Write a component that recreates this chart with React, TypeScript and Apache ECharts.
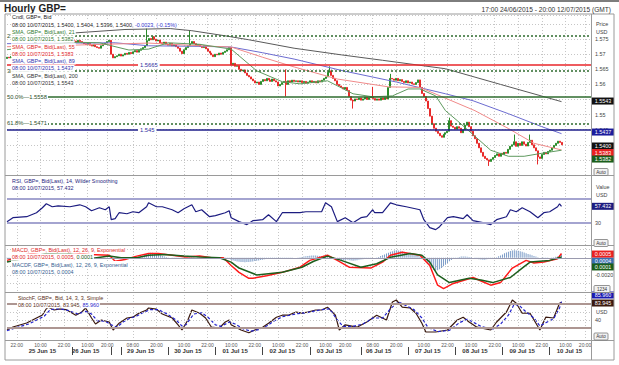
import React, { useEffect, useRef } from "react";
import * as echarts from "echarts";

// ---------------- categories: hourly bars, weekend gaps removed ----------------
const sessions: [string, number, number][] = [
  ["24 Jun 15", 17, 23], ["25 Jun 15", 0, 23], ["26 Jun 15", 0, 21], ["28 Jun 15", 21, 23],
  ["29 Jun 15", 0, 23], ["30 Jun 15", 0, 23], ["01 Jul 15", 0, 23], ["02 Jul 15", 0, 23],
  ["03 Jul 15", 0, 21], ["05 Jul 15", 20, 23], ["06 Jul 15", 0, 23], ["07 Jul 15", 0, 23],
  ["08 Jul 15", 0, 23], ["09 Jul 15", 0, 23], ["10 Jul 15", 0, 23],
];

const timeTickLabels = [
  "24 Jun 15 22:00", "25 Jun 15 10:00", "25 Jun 15 22:00", "26 Jun 15 10:00", "26 Jun 15 20:00",
  "29 Jun 15 08:00", "29 Jun 15 20:00", "30 Jun 15 10:00", "30 Jun 15 22:00", "01 Jul 15 10:00",
  "01 Jul 15 22:00", "02 Jul 15 10:00", "02 Jul 15 22:00", "03 Jul 15 10:00", "03 Jul 15 20:00",
  "06 Jul 15 08:00", "06 Jul 15 20:00", "07 Jul 15 10:00", "07 Jul 15 22:00", "08 Jul 15 10:00",
  "08 Jul 15 22:00", "09 Jul 15 10:00", "09 Jul 15 22:00", "10 Jul 15 10:00", "10 Jul 15 20:00",
];
const dateLabelSlots = [
  "25 Jun 15 11:00", "26 Jun 15 09:00", "29 Jun 15 12:00", "30 Jun 15 12:00", "01 Jul 15 12:00",
  "02 Jul 15 12:00", "03 Jul 15 12:00", "06 Jul 15 11:00", "07 Jul 15 12:00", "08 Jul 15 12:00",
  "09 Jul 15 12:00", "10 Jul 15 12:00",
];
const daySeparators = [
  "26 Jun 15 02:00", "28 Jun 15 21:00", "29 Jun 15 02:00", "30 Jun 15 02:00", "01 Jul 15 02:00",
  "02 Jul 15 02:00", "03 Jul 15 02:00", "06 Jul 15 02:00", "07 Jul 15 02:00", "08 Jul 15 02:00",
  "09 Jul 15 02:00", "10 Jul 15 02:00", "10 Jul 15 23:00",
];

const mainTickLabels = ["1.575", "1.57", "1.565", "1.56", "1.55", "1.545"];
const rsiTickLabels = ["30"];
const macdTickLabels = ["-0.0020"];
const stochTickLabels = ["40"];

// ---------------- price data (pips above 1.5000) ----------------
const firstOpenPips = 686;
const closePips = [
  690, 688, 693, 698, 702, 700, 706, 712, 716, 722,
  726, 724, 730, 736, 740, 745, 748, 744, 749, 752,
  748, 750, 746, 748, 751, 747, 745, 748, 750, 746,
  744, 742, 745, 748, 744, 740, 746, 742, 738, 735,
  732, 736, 730, 727, 733, 725, 722, 720, 728, 733,
  737, 742, 746, 700, 688, 692, 695, 700, 694, 698,
  703, 700, 706, 702, 708, 712, 707, 713, 718, 722,
  728, 745, 752, 748, 758, 750, 744, 747, 738, 735,
  740, 733, 730, 736, 728, 732, 725, 720, 710, 702,
  715, 722, 728, 735, 742, 735, 728, 732, 726, 722,
  728, 718, 710, 704, 698, 692, 700, 698, 704, 700,
  706, 710, 715, 722, 664, 670, 660, 662, 650, 645,
  648, 638, 630, 625, 618, 612, 605, 608, 600, 610,
  616, 612, 620, 615, 610, 618, 612, 608, 595, 600,
  606, 610, 600, 612, 608, 614, 610, 612, 608, 612,
  606, 610, 604, 608, 612, 606, 610, 605, 612, 608,
  614, 620, 625, 640, 645, 630, 620, 612, 600, 595,
  590, 585, 590, 580, 560, 548, 545, 552, 550, 555,
  548, 552, 558, 550, 556, 560, 553, 548, 552, 548,
  555, 550, 556, 552, 590, 620, 618, 614, 620, 612,
  616, 610, 606, 612, 605, 608, 602, 600, 606, 615,
  590, 570, 560, 545, 520, 495, 470, 455, 445, 438,
  430, 425, 435, 440, 445, 480, 462, 458, 452, 460,
  455, 440, 450, 465, 475, 460, 445, 430, 420, 405,
  390, 375, 362, 355, 350, 345, 352, 358, 365, 370,
  362, 372, 368, 375, 372, 385, 395, 400, 410, 395,
  405, 398, 410, 402, 396, 408, 415, 400, 390, 380,
  360, 355, 368, 375, 370, 378, 382, 390, 398, 405,
  412, 408, 400,
];
const highSpikes: [number, number][] = [[71, 785], [93, 780], [142, 650], [164, 660], [186, 592], [195, 635], [225, 490], [258, 434], [266, 434]];
const lowSpikes: [number, number][] = [[142, 560], [176, 520], [245, 330], [270, 335]];

// moving averages [bar index, pips]
const sma21: [number, number][] = [[0, 715], [33, 740], [47, 738], [62, 714], [72, 717], [82, 738], [98, 733], [114, 717], [127, 645], [140, 609], [149, 602], [163, 612], [176, 569], [186, 559], [196, 562], [204, 585], [210, 585], [218, 562], [223, 513], [229, 480], [238, 428], [246, 382], [255, 362], [263, 362], [272, 372], [282, 382]];
const sma55: [number, number][] = [[0, 725], [33, 730], [72, 737], [101, 727], [114, 724], [130, 690], [146, 658], [168, 618], [194, 592], [210, 590], [221, 560], [238, 513], [255, 454], [268, 405], [282, 383]];
const sma89: [number, number][] = [[0, 735], [33, 737], [55, 738], [72, 728], [100, 726], [114, 724], [130, 705], [146, 684], [171, 645], [198, 608], [223, 569], [237, 546], [255, 503], [272, 460], [282, 437]];
const sma200: [number, number][] = [[0, 762], [33, 770], [60, 782], [83, 785], [94, 778], [110, 762], [123, 748], [146, 720], [170, 698], [191, 680], [223, 652], [251, 600], [282, 543]];

const fibLevels: [string, number, boolean][] = [["23.6%", 1.576, false], ["38.2%", 1.5645, false], ["50.0%", 1.5558, true], ["61.8%", 1.5471, false]];
const redLevel = 1.5665;
const navyLevel = 1.545;

// RSI [bar index, value]
const rsi: [number, number][] = [[0, 31.7], [3, 38.3], [10, 40], [15, 46.7], [18, 55], [20, 61.7], [23, 56.7], [26, 58.3], [32, 56.7], [37, 60], [40, 56.7], [43, 50], [47, 55], [50, 51.7], [52, 56.7], [53, 35], [55, 36.7], [57, 46.7], [61, 45], [64, 48.3], [67, 46.7], [71, 56.7], [72, 63.3], [76, 56.7], [79, 56.7], [84, 51.7], [87, 46.7], [90, 53.3], [94, 60], [96, 48.3], [99, 51.7], [103, 40], [106, 41.7], [111, 46.7], [113, 50], [114, 38.3], [118, 31.7], [122, 26.7], [125, 33.3], [130, 35], [133, 43.3], [137, 31.7], [140, 46.7], [143, 46.7], [149, 46.7], [152, 48.3], [160, 48.3], [162, 63.3], [165, 56.7], [168, 31.7], [172, 38.3], [176, 30], [180, 38.3], [183, 40], [186, 51.7], [187, 46.7], [191, 46.7], [195, 63.3], [198, 60], [203, 56.7], [210, 51.7], [212, 35], [215, 21.7], [218, 18.3], [220, 23.3], [224, 38.3], [227, 40], [232, 36.7], [234, 43.3], [237, 33.3], [242, 30], [246, 26.7], [249, 35], [254, 40], [256, 51.7], [259, 48.3], [262, 55], [266, 48.3], [270, 38.3], [273, 46.7], [276, 48.3], [280, 56.7], [281, 61.7], [282, 57.432]];

// MACD in units of 0.0001
const macdLine: [number, number][] = [[0, -3], [10, 4], [20, 8], [30, 7], [42, 4], [52, 3], [55, -4], [60, -2], [66, 2], [72, 5], [77, 5], [84, 3], [91, 1], [98, 2], [104, 0], [110, 0], [114, -9], [118, -17], [123, -24], [125, -24], [132, -21], [140, -17], [149, -11], [154, -3], [163, 3], [168, -3], [174, -11], [185, -12], [191, -5], [195, 3], [201, 6.5], [210, 3], [215, -9], [219, -32], [222, -36], [227, -30], [237, -23], [242, -28], [246, -32], [251, -29], [257, -12], [264, -3], [268, -6], [273, -5], [280, -1], [282, 5]];
const macdSignal: [number, number][] = [[0, -5], [10, 0], [20, 5], [30, 6], [42, -1], [52, 2], [58, 0], [66, 0], [72, 3], [80, 4], [90, 2], [98, 1], [108, 0], [114, -5], [118, -12], [127, -20], [140, -17], [150, -11], [156, -4], [163, 2], [170, -3], [180, -11], [188, -7], [195, 0.6], [205, 5], [211, 3], [215, -5], [219, -20], [225, -29], [235, -24], [241, -26], [247, -29], [256, -23], [262, -12], [266, -5], [276, -3], [282, 1]];
// histogram per bar in units of 0.00001
const macdHist = [
  -5, -3, 0, 3, 5, 6, 8, 6, 5, 4,
  3, 2, 1, 0, -1, -2, -2, -3, -2, -1,
  0, 1, 2, 1, 0, -1, -2, -1, 0, 1,
  1, 0, -1, -2, -3, -2, -1, 0, 1, 2,
  3, 2, 1, 0, -1, -2, -3, -2, -1, 0,
  1, 2, -3, -8, -12, -14, -12, -10, -8, -6,
  -4, -2, 0, 2, 4, 6, 8, 12, 18, 25,
  35, 45, 55, 60, 58, 52, 45, 38, 30, 22,
  15, 10, 5, 2, -2, -5, -8, -10, -8, -5,
  -2, 2, 8, 12, 10, 6, 2, -2, -5, -6,
  -8, -10, -12, -12, -10, -8, -6, -5, -4, -3,
  -2, -2, -8, -15, -25, -32, -38, -42, -45, -48,
  -50, -52, -50, -48, -45, -42, -38, -34, -30, -26,
  -22, -18, -15, -12, -10, -8, -10, -12, -10, -8,
  -6, -5, -4, -3, -2, -1, 0, 2, 4, 6,
  10, 14, 18, 22, 25, 28, 28, 26, 24, 22,
  22, 24, 26, 22, 12, 2, -6, -12, -18, -22,
  -25, -26, -25, -22, -28, -32, -35, -32, -28, -24,
  -20, -16, -12, -8, -5, -2, 0, 2, 4, 10,
  20, 30, 40, 50, 60, 70, 78, 85, 88, 86,
  82, 78, 72, 66, 60, 55, 50, 45, 40, 30,
  15, 0, -20, -45, -70, -95, -120, -140, -148, -145,
  -135, -120, -100, -80, -60, -40, -25, -12, -2, 5,
  10, 14, 16, 15, 12, 10, 6, 2, -4, -10,
  -16, -20, -24, -22, -18, -14, -10, -5, 0, 8,
  18, 28, 40, 52, 62, 72, 80, 86, 88, 86,
  82, 76, 70, 62, 54, 46, 38, 30, 22, 14,
  6, 0, -4, -6, -4, -2, 0, 4, 8, 12,
  16, 30, 40,
];

// Stochastic [bar index, value]
const stochK: [number, number][] = [[0, 15], [3, 22.5], [10, 32.5], [15, 45], [18, 52.5], [20, 68], [21, 72], [24, 65], [27, 68], [30, 66], [35, 52], [38, 60], [40, 70], [43, 45], [45, 30], [48, 40], [52, 35], [54, 15], [57, 32], [61, 45], [64, 47], [67, 57], [71, 65], [72, 70], [76, 67], [79, 55], [84, 45], [87, 28], [89, 15], [92, 40], [94, 65], [98, 57], [101, 45], [104, 22], [108, 20], [111, 35], [113, 40], [114, 28], [119, 15], [123, 8], [126, 15], [130, 22], [133, 32], [137, 47], [140, 52], [143, 52], [147, 60], [150, 57], [153, 60], [157, 65], [160, 65], [163, 72], [167, 52], [169, 15], [172, 28], [178, 22], [183, 35], [188, 52], [193, 40], [196, 85], [198, 90], [201, 72], [205, 70], [208, 57], [211, 32], [213, 10], [218, 10], [224, 15], [229, 40], [232, 47], [235, 35], [239, 22], [246, 15], [249, 35], [254, 60], [257, 90], [259, 82], [262, 57], [266, 57], [269, 32], [271, 15], [274, 47], [278, 45], [281, 82], [282, 83.945]];
const stochD: [number, number][] = [[0, 13], [4, 20], [11, 30], [16, 42], [19, 50], [22, 66], [25, 68], [28, 67], [31, 64], [36, 55], [40, 62], [43, 55], [46, 38], [50, 37], [53, 28], [56, 22], [59, 35], [62, 43], [66, 50], [69, 58], [73, 66], [77, 66], [81, 56], [86, 40], [89, 25], [91, 28], [95, 55], [99, 58], [102, 48], [106, 28], [109, 24], [113, 35], [116, 30], [120, 18], [124, 12], [128, 16], [132, 25], [136, 38], [140, 48], [144, 52], [148, 56], [152, 58], [156, 62], [160, 66], [164, 68], [168, 40], [171, 24], [176, 24], [181, 30], [186, 45], [191, 45], [195, 68], [199, 85], [203, 76], [207, 66], [211, 45], [214, 22], [219, 11], [225, 14], [230, 33], [234, 42], [237, 35], [241, 24], [247, 17], [251, 30], [255, 52], [258, 80], [261, 74], [264, 60], [268, 45], [271, 25], [274, 33], [278, 43], [281, 70], [282, 85.96]];

// ---------------- derived structures ----------------
const FONT = "'Liberation Sans', Arial, Helvetica, sans-serif";
const categories: string[] = [];
sessions.forEach(([day, h0, h1]) => {
  for (let h = h0; h <= h1; h++) categories.push(`${day} ${String(h).padStart(2, "0")}:00`);
});
const lastCat = categories[categories.length - 1];
const timeSet = new Set(timeTickLabels);
const dateSet = new Set(dateLabelSlots);
const sepSet = new Set(daySeparators);

const toPrice = (p: number) => +(1.5 + p / 10000).toFixed(4);
const closes = closePips.map(toPrice);
const candleData = closes.map((c, i) => {
  const o = i === 0 ? toPrice(firstOpenPips) : closes[i - 1];
  let hi = Math.max(o, c);
  let lo = Math.min(o, c);
  const hs = highSpikes.find((s) => s[0] === i);
  if (hs) hi = toPrice(hs[1]);
  const ls = lowSpikes.find((s) => s[0] === i);
  if (ls) lo = toPrice(ls[1]);
  return [o, c, lo, hi];
});
const smaData = (arr: [number, number][]) => arr.map(([i, p]) => [i, toPrice(p)]);
const macdData = (arr: [number, number][]) => arr.map(([i, v]) => [i, v / 10000]);
const histData = macdHist.map((v) => v / 100000);

const lastOf = (arr: [number, number][]) => arr[arr.length - 1][1];

function box(value: number, text: string, bg: string, dy: number) {
  return {
    coord: [lastCat, value],
    value,
    symbol: "rect",
    symbolSize: [22, 7],
    symbolOffset: [12, dy],
    itemStyle: { color: bg },
    label: { show: true, position: "inside", formatter: text, color: "#fff", fontSize: 5.4, fontFamily: FONT },
  };
}

function txt(x: number, y: number, text: string, fill: string, extra: any = {}) {
  return {
    type: "text", x, y, z: 40,
    style: {
      text, fill, fontSize: 5.4, fontFamily: FONT,
      textAlign: "left", align: "left", textVerticalAlign: "middle", verticalAlign: "middle",
      ...extra,
    },
  };
}

function legend(x: number, y: number, parts: [string, string][]) {
  const rich: any = {};
  let text = "";
  parts.forEach(([t, c], i) => {
    rich["p" + i] = { fill: c, fontSize: 5.4, fontFamily: FONT };
    text += `{p${i}|${t}}`;
  });
  return {
    type: "text", x, y, z: 40,
    style: {
      text, rich, backgroundColor: "#fff", padding: [1, 1, 1, 1], fontSize: 5.4, fontFamily: FONT,
      textAlign: "left", align: "left", textVerticalAlign: "middle", verticalAlign: "middle",
    },
  };
}

function button(x: number, y: number, label: string, w = 14) {
  return {
    type: "group", x, y, z: 40,
    children: [
      { type: "rect", z: 40, shape: { x: 0, y: 0, width: w, height: 7, r: 1 }, style: { fill: "#f2f2f2", stroke: "#7a7a7a", lineWidth: 0.8 } },
      { type: "text", z: 41, x: w / 2, y: 3.6, style: { text: label, fill: "#333", fontSize: 4.6, fontFamily: FONT, textAlign: "center", align: "center", textVerticalAlign: "middle", verticalAlign: "middle" } },
    ],
  };
}

const hline = (y: number, x1 = 5, x2 = 614) => ({
  type: "line", z: 30, shape: { x1, y1: y, x2, y2: y }, style: { stroke: "#9a9a9a", lineWidth: 1 },
});

const RED = "#e02828";
const GREEN = "#2f7a2f";
const BLUE = "#3535b0";
const MACDF = "#35608f";
const p4 = (arr: [number, number][]) => toPrice(lastOf(arr)).toFixed(4);

const graphics: any[] = [
  { type: "rect", z: 30, shape: { x: 0, y: 0, width: 619, height: 2 }, style: { fill: "#7d7d7d" } },
  { type: "rect", z: 30, shape: { x: 5, y: 14, width: 609, height: 346 }, style: { fill: "none", stroke: "#9a9a9a", lineWidth: 1 } },
  { type: "line", z: 30, shape: { x1: 591.5, y1: 14, x2: 591.5, y2: 360 }, style: { stroke: "#9a9a9a", lineWidth: 1 } },
  hline(175.5), hline(245.5), hline(292.5), hline(340.5),
  txt(4, 8, "Hourly GBP=", "#222", { fontSize: 10, fontWeight: "bold" }),
  txt(611, 9, "17:00 24/06/2015 - 20:00 12/07/2015 (GMT)", "#333", { fontSize: 6.6, textAlign: "right", align: "right" }),
  // main legend
  legend(11, 17, [["Cndl, GBP=, Bid", "#222"]]),
  legend(11, 24.5, [["08:00 10/07/2015, 1.5400, 1.5404, 1.5396, 1.5400, ", "#222"], ["-0.0023, (-0.15%)", "#3333cc"]]),
  legend(11, 32, [["SMA, GBP=, Bid(Last), 21", GREEN]]),
  legend(11, 39.3, [["08:00 10/07/2015, " + p4(sma21), GREEN]]),
  legend(11, 46.7, [["SMA, GBP=, Bid(Last), 55", RED]]),
  legend(11, 53.7, [["08:00 10/07/2015, " + p4(sma55), RED]]),
  legend(11, 61, [["SMA, GBP=, Bid(Last), 89", BLUE]]),
  legend(11, 68.3, [["08:00 10/07/2015, " + p4(sma89), BLUE]]),
  legend(11, 75.6, [["SMA, GBP=, Bid(Last), 200", "#333"]]),
  legend(11, 82.8, [["08:00 10/07/2015, " + p4(sma200), "#333"]]),
  // RSI legend
  legend(11, 180.5, [["RSI, GBP=, Bid(Last), 14, Wilder Smoothing", "#262680"]]),
  legend(11, 187.8, [["08:00 10/07/2015, 57.432", "#262680"]]),
  // MACD legend
  legend(11, 250, [["MACD, GBP=, Bid(Last), 12, 26, 9, Exponential", RED]]),
  legend(11, 257.3, [["08:00 10/07/2015, 0.0005, ", RED], ["0.0001", "#1d5e1d"]]),
  legend(11, 264.6, [["MACDF, GBP=, Bid(Last), 12, 26, 9, Exponential", MACDF]]),
  legend(11, 271.8, [["08:00 10/07/2015, 0.0004", MACDF]]),
  // Stoch legend
  legend(17, 297.6, [["StochF, GBP=, Bid, 14, 3, 3, Simple", "#5a3020"]]),
  legend(17, 304.8, [["08:00 10/07/2015, 83.945, ", "#5a3020"], ["85.960", "#2a2acc"]]),
  // right axis captions
  txt(596, 24, "Price", "#444"), txt(596, 31.5, "USD", "#444"),
  txt(596, 187, "Value", "#444"), txt(596, 195, "USD", "#444"),
  txt(596, 312, "USD", "#444"),
  button(594, 168.5, "Auto"), button(594, 239.5, "Auto"), button(594, 285.5, "1234", 16), button(594, 333, "Auto"),
];

const dotted = { color: "#c6c6c6", width: 1, type: [1, 2] as any };

const xAxisFor = (gridIndex: number, showLabels: boolean) => ({
  type: "category",
  gridIndex,
  data: categories,
  boundaryGap: false,
  axisLine: { show: false },
  axisTick: { show: false },
  axisLabel: showLabels
    ? {
        show: true,
        interval: (_i: number, v: string) => timeSet.has(v),
        formatter: (v: string) => v.slice(-5),
        fontSize: 5,
        color: "#555",
        margin: 2,
        fontFamily: FONT,
      }
    : { show: false },
  splitLine: { show: true, interval: (_i: number, v: string) => timeSet.has(v), lineStyle: dotted },
});

const yLabel = (allowed: string[], fmt: (v: number) => string) => ({
  show: true,
  fontSize: 5.4,
  color: "#444",
  margin: 4,
  fontFamily: FONT,
  formatter: (v: number) => {
    const s = fmt(v);
    return allowed.includes(s) ? s : "";
  },
});

const gridBase = { left: 7, right: 28, show: false, containLabel: false, outerBoundsMode: "none" };
const ml = { symbol: ["none", "none"], silent: true, animation: false, precision: 6 };

const option: any = {
  animation: false,
  backgroundColor: "#fff",
  textStyle: { fontFamily: FONT },
  grid: [
    { ...gridBase, top: 15, height: 160 },
    { ...gridBase, top: 175, height: 70 },
    { ...gridBase, top: 245, height: 47 },
    { ...gridBase, top: 292, height: 48 },
  ],
  xAxis: [
    xAxisFor(0, false),
    xAxisFor(1, false),
    xAxisFor(2, false),
    xAxisFor(3, true),
    {
      type: "category",
      gridIndex: 3,
      data: categories,
      boundaryGap: false,
      position: "bottom",
      offset: 7,
      axisLine: { show: false },
      axisTick: { show: true, interval: (_i: number, v: string) => sepSet.has(v), length: 8, lineStyle: { color: "#444", width: 1 } },
      axisLabel: {
        show: true,
        interval: (_i: number, v: string) => dateSet.has(v),
        formatter: (v: string) => v.slice(0, 9),
        fontSize: 6,
        fontWeight: "bold",
        color: "#333",
        margin: 1,
        fontFamily: FONT,
      },
      splitLine: { show: false },
    },
  ],
  yAxis: [
    {
      type: "value", gridIndex: 0, position: "right", min: 1.53, max: 1.583, interval: 0.005,
      axisLine: { show: false }, axisTick: { show: false },
      axisLabel: yLabel(mainTickLabels, (v) => String(parseFloat(v.toFixed(4)))),
      splitLine: { show: true, lineStyle: dotted },
    },
    {
      type: "value", gridIndex: 1, position: "right", min: -7.5, max: 110, interval: 2.5,
      axisLine: { show: false }, axisTick: { show: false },
      axisLabel: yLabel(rsiTickLabels, (v) => String(Math.round(v * 10) / 10)),
      splitLine: { show: false },
    },
    {
      type: "value", gridIndex: 2, position: "right", min: -0.004, max: 0.0015, interval: 0.001,
      axisLine: { show: false }, axisTick: { show: false },
      axisLabel: yLabel(macdTickLabels, (v) => v.toFixed(4)),
      splitLine: { show: true, lineStyle: dotted },
    },
    {
      type: "value", gridIndex: 3, position: "right", min: -10, max: 110, interval: 10,
      axisLine: { show: false }, axisTick: { show: false },
      axisLabel: yLabel(stochTickLabels, (v) => String(Math.round(v))),
      splitLine: { show: false },
    },
  ],
  series: [
    {
      type: "candlestick",
      xAxisIndex: 0, yAxisIndex: 0,
      data: candleData,
      barWidth: 1.5,
      z: 2,
      itemStyle: { color: "#2a8c2a", color0: "#e82a2a", borderColor: "#2a8c2a", borderColor0: "#e82a2a", borderWidth: 1 },
      markLine: {
        ...ml,
        data: fibLevels.map(([pct, v, solid]) => ({
          yAxis: v,
          lineStyle: { color: "#2e6b2e", width: 1.5, type: solid ? "solid" : [2, 2] },
          label: {
            show: true, position: "insideStart", distance: 0, formatter: `${pct}\u2014${v.toFixed(4)}`,
            color: "#2b4f2b", fontSize: 5.8, fontFamily: FONT, backgroundColor: "#fff", padding: [0, 1, 0, 0],
          },
        })),
      },
      markPoint: { silent: true, animation: false, data: [box(closes[closes.length - 1], closes[closes.length - 1].toFixed(4), "#111", 1.2)] },
    },
    {
      type: "line", xAxisIndex: 0, yAxisIndex: 0, data: smaData(sma200), symbol: "none", z: 3,
      lineStyle: { color: "#5a5a5a", width: 1 },
      markPoint: { silent: true, animation: false, data: [box(toPrice(lastOf(sma200)), p4(sma200), "#111", -0.6)] },
    },
    {
      type: "line", xAxisIndex: 0, yAxisIndex: 0, data: smaData(sma89), symbol: "none", z: 3,
      lineStyle: { color: "#6c6cd0", width: 1 },
      markPoint: { silent: true, animation: false, data: [box(toPrice(lastOf(sma89)), p4(sma89), "#1c1c9c", -1.6)] },
    },
    {
      type: "line", xAxisIndex: 0, yAxisIndex: 0, data: smaData(sma55), symbol: "none", z: 3,
      lineStyle: { color: "#f08a8a", width: 1 },
      markPoint: { silent: true, animation: false, data: [box(toPrice(lastOf(sma55)), p4(sma55), "#e82020", 2.6)] },
    },
    {
      type: "line", xAxisIndex: 0, yAxisIndex: 0, data: smaData(sma21), symbol: "none", z: 3,
      lineStyle: { color: "#5f9a5f", width: 1 },
      markPoint: { silent: true, animation: false, data: [box(toPrice(lastOf(sma21)), p4(sma21), "#1b5e1b", 8.8)] },
    },
    {
      type: "line", xAxisIndex: 0, yAxisIndex: 0, data: [], z: 60,
      markLine: {
        ...ml,
        data: [
          {
            yAxis: redLevel, lineStyle: { color: "#e8262a", width: 1.5, type: "solid" },
            label: { show: true, position: "insideStart", distance: 131, formatter: redLevel.toFixed(4), color: "#3030a0", fontSize: 5.8, fontFamily: FONT, backgroundColor: "#fff", padding: [0, 2] },
          },
          {
            yAxis: navyLevel, lineStyle: { color: "#1e1e8a", width: 1.5, type: "solid" },
            label: { show: true, position: "insideStart", distance: 131, formatter: String(navyLevel), color: "#3030a0", fontSize: 5.8, fontFamily: FONT, backgroundColor: "#fff", padding: [0, 2] },
          },
        ],
      },
    },
    {
      type: "line", xAxisIndex: 1, yAxisIndex: 1, data: rsi, symbol: "none", z: 3,
      lineStyle: { color: "#1c1c80", width: 1.2 },
      markLine: {
        ...ml, label: { show: false },
        data: [
          { yAxis: 70, lineStyle: { color: "#a4a4d0", width: 2, type: "solid" } },
          { yAxis: 30, lineStyle: { color: "#a4a4d0", width: 2, type: "solid" } },
        ],
      },
      markPoint: { silent: true, animation: false, data: [box(lastOf(rsi), lastOf(rsi).toFixed(3), "#1c1c80", 0)] },
    },
    {
      type: "bar", xAxisIndex: 2, yAxisIndex: 2, data: histData, barWidth: 1, z: 2,
      itemStyle: { color: "#7c9cc8" },
      markLine: {
        ...ml, label: { show: false },
        data: [{ yAxis: 0, lineStyle: { color: "#9a9aae", width: 1, type: "solid" } }],
      },
      markPoint: { silent: true, animation: false, data: [box(histData[histData.length - 1], histData[histData.length - 1].toFixed(4), "#3a6fb0", 6.6)] },
    },
    {
      type: "line", xAxisIndex: 2, yAxisIndex: 2, data: macdData(macdLine), symbol: "none", z: 3,
      lineStyle: { color: "#ff1a1a", width: 1.5 },
      markPoint: { silent: true, animation: false, data: [box(lastOf(macdLine) / 10000, (lastOf(macdLine) / 10000).toFixed(4), "#e82020", 0.5)] },
    },
    {
      type: "line", xAxisIndex: 2, yAxisIndex: 2, data: macdData(macdSignal), symbol: "none", z: 3,
      lineStyle: { color: "#1d5e1d", width: 1.5 },
      markPoint: { silent: true, animation: false, data: [box(lastOf(macdSignal) / 10000, (lastOf(macdSignal) / 10000).toFixed(4), "#1b5e1b", 10)] },
    },
    {
      type: "line", xAxisIndex: 3, yAxisIndex: 3, data: stochK, symbol: "none", z: 3,
      lineStyle: { color: "#3b1a10", width: 1.2 },
      markLine: {
        ...ml, label: { show: false },
        data: [
          { yAxis: 80, lineStyle: { color: "#ad9692", width: 2, type: "solid" } },
          { yAxis: 20, lineStyle: { color: "#ad9692", width: 2, type: "solid" } },
          { yAxis: 40, lineStyle: dotted },
          { yAxis: 60, lineStyle: dotted },
        ],
      },
      markPoint: { silent: true, animation: false, data: [box(lastOf(stochK), lastOf(stochK).toFixed(3), "#3b1a10", 0.6)] },
    },
    {
      type: "line", xAxisIndex: 3, yAxisIndex: 3, data: stochD, symbol: "none", z: 3,
      lineStyle: { color: "#2222cc", width: 1.2, type: [3, 2] },
      markPoint: { silent: true, animation: false, data: [box(lastOf(stochD), lastOf(stochD).toFixed(3), "#1a1ab0", -6.6)] },
    },
  ],
  graphic: { elements: graphics },
};

export default function App() {
  const ref = useRef<HTMLDivElement>(null);
  useEffect(() => {
    if (!ref.current) return;
    const chart = echarts.init(ref.current, undefined, { renderer: "svg" });
    chart.setOption(option);
    return () => chart.dispose();
  }, []);
  return <div ref={ref} style={{ position: "fixed", left: 0, top: 0, width: 619, height: 365 }} />;
}
